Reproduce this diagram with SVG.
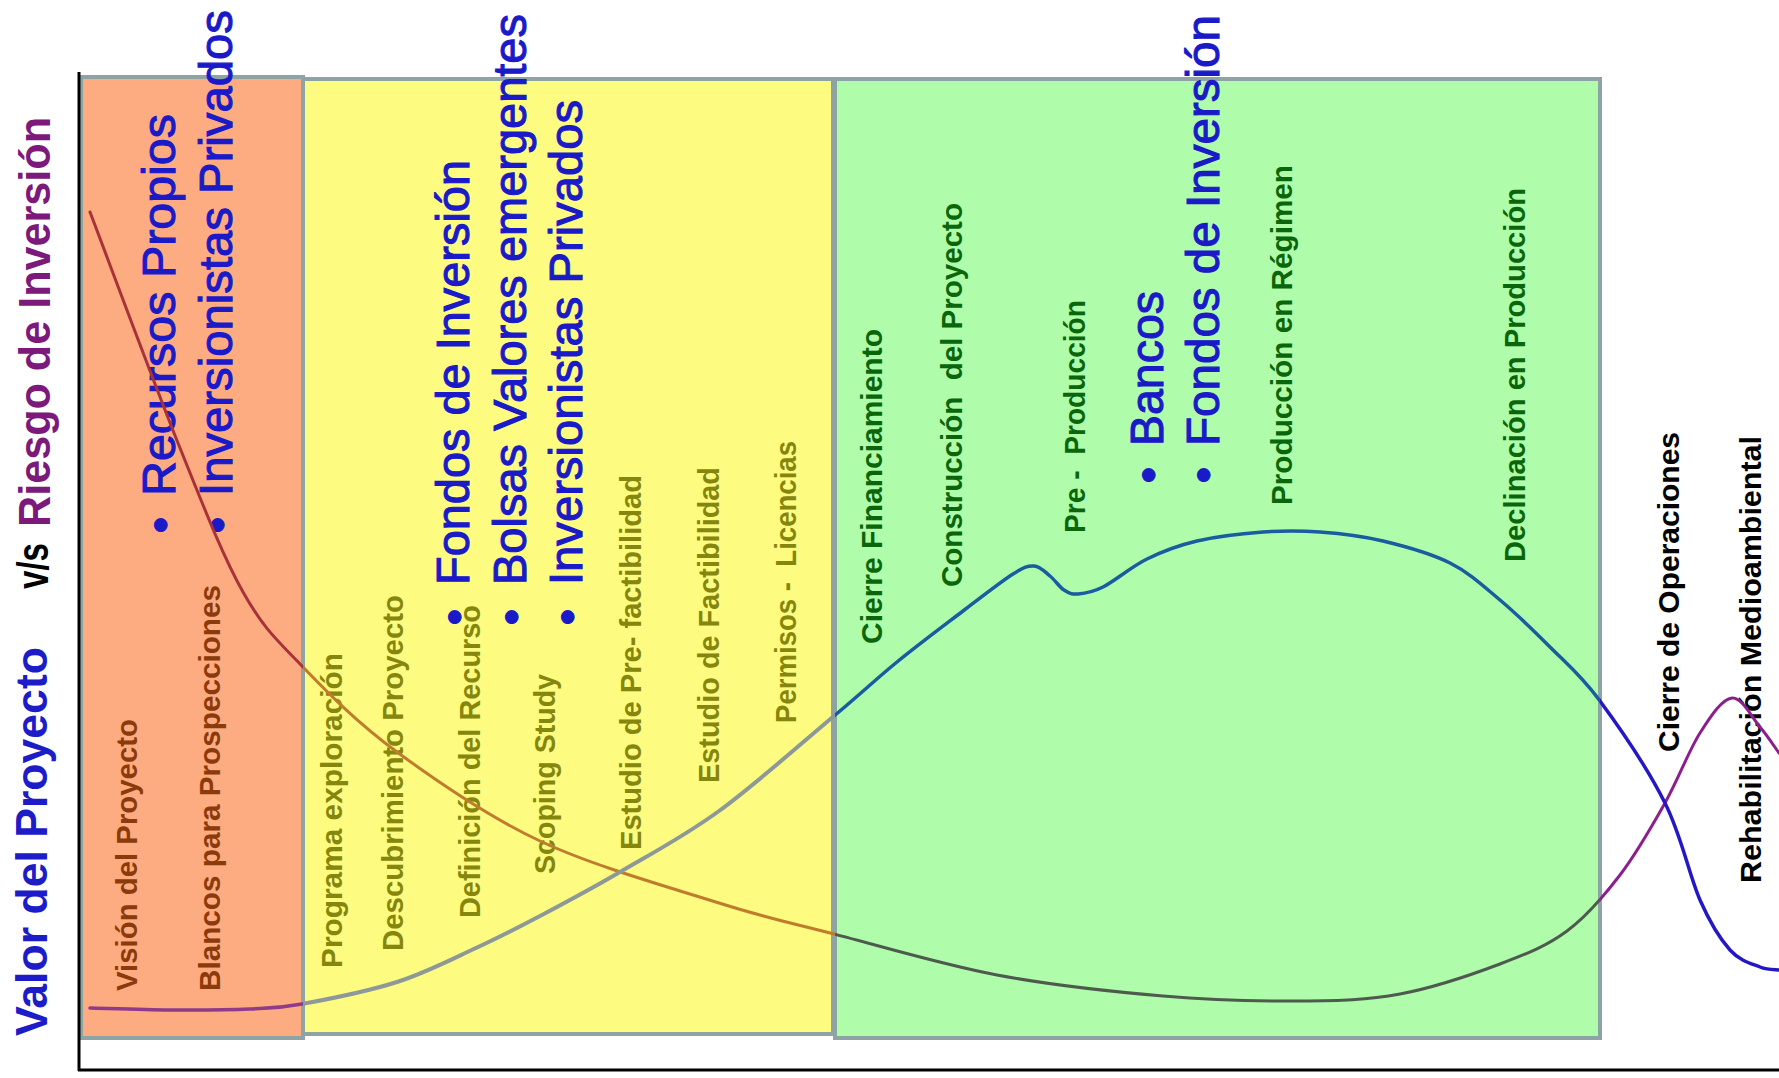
<svg xmlns="http://www.w3.org/2000/svg" xmlns:xlink="http://www.w3.org/1999/xlink" width="1779" height="1078" viewBox="0 0 1779 1078">
<style>
text{font-family:"Liberation Sans",Arial,sans-serif;white-space:pre}
.ti{font-size:45px;font-weight:bold}
.lb{font-size:30px;font-weight:bold}
.bk{font-size:30px;font-weight:bold;fill:#000}
.bg{font-size:47px;fill:#1a1ac8;stroke:#1a1ac8;stroke-width:1.1px}
.brown{fill:#8b3a0b}
.olive{fill:#85860e}
.dg{fill:#0a660a}
.box{stroke:#8ea4a4;stroke-width:4}
.crv{fill:none;stroke-linecap:round;stroke-linejoin:round}
</style>
<defs>
<clipPath id="cO"><rect x="0" y="0" width="303" height="1078"/></clipPath>
<clipPath id="cY"><rect x="303" y="0" width="532" height="1078"/></clipPath>
<clipPath id="cG"><rect x="835" y="0" width="765" height="1078"/></clipPath>
<clipPath id="cW"><rect x="1600" y="0" width="179" height="1078"/></clipPath>
<path id="risk" d="M90,212 C105,251.3 154.5,384.7 180,448 C205.5,511.3 222.7,555.7 243,592 C263.3,628.3 276.3,639.3 302,666 C327.7,692.7 357.3,722.8 397,752 C436.7,781.2 486.3,815.8 540,841 C593.7,866.2 670,887.5 719,903 C768,918.5 787.7,922 834,934 C880.3,946 942.2,964.7 997,975 C1051.8,985.3 1112.5,991.7 1163,996 C1213.5,1000.3 1260.5,1001.3 1300,1001 C1339.5,1000.7 1366.7,1000.2 1400,994 C1433.3,987.8 1472.2,974.5 1500,964 C1527.8,953.5 1547,945.8 1567,931 C1587,916.2 1603.7,896.3 1620,875 C1636.3,853.7 1651.7,826.7 1665,803 C1678.3,779.3 1688.8,750.5 1700,733 C1711.2,715.5 1722,699 1732,698 C1742,697 1752.2,717.8 1760,727 C1767.8,736.2 1775.8,748.7 1779,753"/>
<path id="value" d="M90,1008 C103.3,1008.3 143.3,1009.8 170,1010 C196.7,1010.2 228,1010 250,1009 C272,1008 277.5,1008.5 302,1004 C326.5,999.5 368,991.3 397,982 C426,972.7 452.2,959 476,948 C499.8,937 516,928.7 540,916 C564,903.3 590.2,889.5 620,872 C649.8,854.5 683.3,837 719,811 C754.7,785 804.3,740.8 834,716 C863.7,691.2 875.5,679.5 897,662 C918.5,644.5 943.7,625.7 963,611 C982.3,596.3 1001.2,581.5 1013,574 C1024.8,566.5 1027.8,565.7 1034,566 C1040.2,566.3 1045,572 1050,576 C1055,580 1059.3,587 1064,590 C1068.7,593 1071.5,594.5 1078,594 C1084.5,593.5 1091.5,592.8 1103,587 C1114.5,581.2 1131.3,566.7 1147,559 C1162.7,551.3 1177.7,545.5 1197,541 C1216.3,536.5 1242.5,533.5 1263,532 C1283.5,530.5 1300,530.5 1320,532 C1340,533.5 1361.3,535.8 1383,541 C1404.7,546.2 1430.5,553.2 1450,563 C1469.5,572.8 1483.3,586 1500,600 C1516.7,614 1533.3,630.2 1550,647 C1566.7,663.8 1580.8,675 1600,701 C1619.2,727 1648.3,769.8 1665,803 C1681.7,836.2 1689.2,875.5 1700,900 C1710.8,924.5 1720,938.8 1730,950 C1740,961.2 1751.8,963.7 1760,967 C1768.2,970.3 1775.8,969.5 1779,970"/>
</defs>
<rect width="1779" height="1078" fill="#fff"/>

<g id="title">
<text class="ti" fill="#1c1cc8" transform="translate(47,1036) rotate(-90)" textLength="389" lengthAdjust="spacingAndGlyphs">Valor del Proyecto</text>
<text class="ti" fill="#000" transform="translate(48,589) rotate(-90)" textLength="46" lengthAdjust="spacingAndGlyphs">v/s</text>
<text class="ti" fill="#7b1a7b" transform="translate(50,527) rotate(-90)" textLength="410" lengthAdjust="spacingAndGlyphs">Riesgo de Inversión</text>
</g>

<g id="phase-exploracion">
<rect class="box" x="81" y="77" width="222" height="961" fill="#fcac80"/>
<text class="lb brown" transform="translate(137,991) rotate(-90)" textLength="272" lengthAdjust="spacingAndGlyphs">Visión del Proyecto</text>
<text class="lb brown" transform="translate(220,991) rotate(-90)" textLength="406" lengthAdjust="spacingAndGlyphs">Blancos para Prospecciones</text>
<text class="bg" transform="translate(175.5,533.2) rotate(-90)">•</text>
<text class="bg" transform="translate(175,496) rotate(-90)" textLength="382" lengthAdjust="spacingAndGlyphs">Recursos Propios</text>
<text class="bg" transform="translate(232.5,533.2) rotate(-90)">•</text>
<text class="bg" transform="translate(232,496) rotate(-90)" textLength="486" lengthAdjust="spacingAndGlyphs">Inversionistas Privados</text>
</g>

<g id="phase-estudios">
<rect class="box" x="303" y="79" width="530" height="955" fill="#fdfc80"/>
<text class="lb olive" transform="translate(342,968) rotate(-90)" textLength="315" lengthAdjust="spacingAndGlyphs">Programa exploración</text>
<text class="lb olive" transform="translate(403,951) rotate(-90)" textLength="356" lengthAdjust="spacingAndGlyphs">Descubrimiento Proyecto</text>
<text class="lb olive" transform="translate(480,918) rotate(-90)" textLength="313" lengthAdjust="spacingAndGlyphs">Definición del Recurso</text>
<text class="lb olive" transform="translate(555,874) rotate(-90)" textLength="200" lengthAdjust="spacingAndGlyphs">Scoping Study</text>
<text class="lb olive" transform="translate(641,850) rotate(-90)" textLength="375" lengthAdjust="spacingAndGlyphs">Estudio de Pre- factibilidad</text>
<text class="lb olive" transform="translate(719,783) rotate(-90)" textLength="316" lengthAdjust="spacingAndGlyphs">Estudio de Factibilidad</text>
<text class="lb olive" transform="translate(796,723) rotate(-90)" textLength="282" lengthAdjust="spacingAndGlyphs">Permisos -  Licencias</text>
<text class="bg" transform="translate(469.5,625.2) rotate(-90)">•</text>
<text class="bg" transform="translate(469,585) rotate(-90)" textLength="425" lengthAdjust="spacingAndGlyphs">Fondos de Inversión</text>
<text class="bg" transform="translate(526.5,625.2) rotate(-90)">•</text>
<text class="bg" transform="translate(526,585) rotate(-90)" textLength="571" lengthAdjust="spacingAndGlyphs">Bolsas Valores emergentes</text>
<text class="bg" transform="translate(582.5,625.2) rotate(-90)">•</text>
<text class="bg" transform="translate(582,585) rotate(-90)" textLength="485" lengthAdjust="spacingAndGlyphs">Inversionistas Privados</text>
</g>

<g id="phase-produccion">
<rect class="box" x="835" y="79" width="765" height="959" fill="#affdab"/>
<text class="lb dg" transform="translate(882,644) rotate(-90)" textLength="315" lengthAdjust="spacingAndGlyphs">Cierre Financiamiento</text>
<text class="lb dg" transform="translate(962,587) rotate(-90)" textLength="384" lengthAdjust="spacingAndGlyphs">Construcción  del Proyecto</text>
<text class="lb dg" transform="translate(1085,533) rotate(-90)" textLength="233" lengthAdjust="spacingAndGlyphs">Pre -  Producción</text>
<text class="lb dg" transform="translate(1292,505) rotate(-90)" textLength="340" lengthAdjust="spacingAndGlyphs">Producción en Régimen</text>
<text class="lb dg" transform="translate(1525,562) rotate(-90)" textLength="374" lengthAdjust="spacingAndGlyphs">Declinación en Producción</text>
<text class="bg" transform="translate(1163.5,483.2) rotate(-90)">•</text>
<text class="bg" transform="translate(1163,446) rotate(-90)" textLength="155" lengthAdjust="spacingAndGlyphs">Bancos</text>
<text class="bg" transform="translate(1218.5,483.2) rotate(-90)">•</text>
<text class="bg" transform="translate(1219,446) rotate(-90)" textLength="431" lengthAdjust="spacingAndGlyphs">Fondos de Inversión</text>
</g>

<g id="phase-cierre">
<text class="bk" transform="translate(1679,752) rotate(-90)" textLength="320" lengthAdjust="spacingAndGlyphs">Cierre de Operaciones</text>
<text class="bk" transform="translate(1761,883) rotate(-90)" textLength="447" lengthAdjust="spacingAndGlyphs">Rehabilitación Medioambiental</text>
</g>

<g id="axes" stroke="#000" stroke-width="3">
<line x1="79" y1="72" x2="79" y2="1071"/>
<line x1="78" y1="1070" x2="1779" y2="1070"/>
</g>

<g id="curves">
<use xlink:href="#risk" class="crv" stroke="#a8323a" stroke-width="3" clip-path="url(#cO)"/>
<use xlink:href="#risk" class="crv" stroke="#bf7c2c" stroke-width="3" clip-path="url(#cY)"/>
<use xlink:href="#risk" class="crv" stroke="#4f5a4f" stroke-width="3" clip-path="url(#cG)"/>
<use xlink:href="#risk" class="crv" stroke="#8b1f8b" stroke-width="3" clip-path="url(#cW)"/>
<use xlink:href="#value" class="crv" stroke="#8f3a8a" stroke-width="3.5" clip-path="url(#cO)"/>
<use xlink:href="#value" class="crv" stroke="#8d9898" stroke-width="4" clip-path="url(#cY)"/>
<use xlink:href="#value" class="crv" stroke="#1a5ca0" stroke-width="3.5" clip-path="url(#cG)"/>
<use xlink:href="#value" class="crv" stroke="#2418c4" stroke-width="3.5" clip-path="url(#cW)"/>
</g>
</svg>
